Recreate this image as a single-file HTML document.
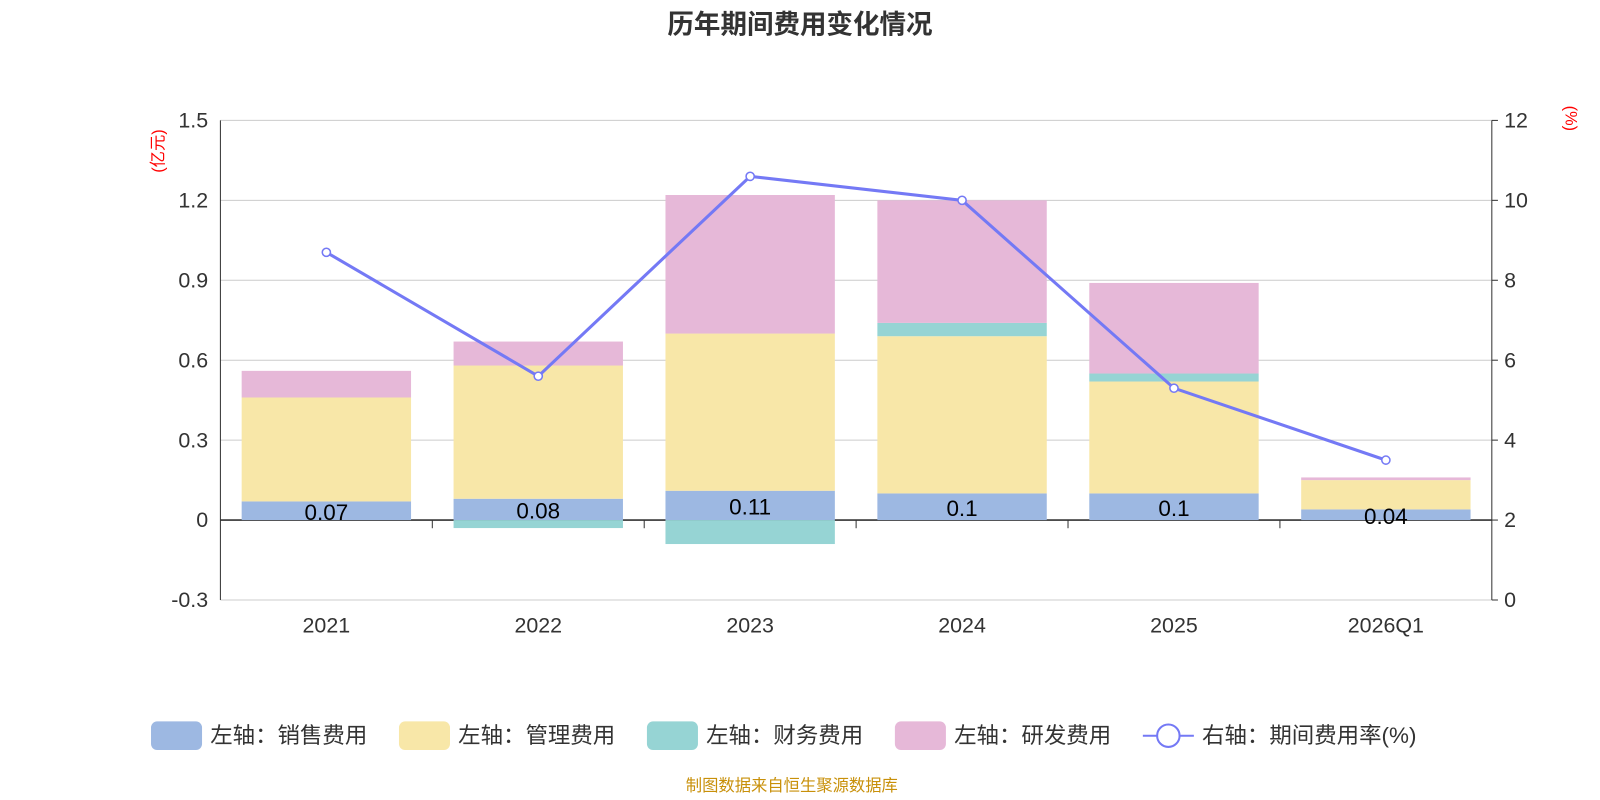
<!DOCTYPE html>
<html><head><meta charset="utf-8"><style>
html,body{margin:0;padding:0;background:#fff;}
svg{display:block;font-family:"Liberation Sans","Noto Sans CJK SC",sans-serif;}
</style></head><body>
<svg id="chart" width="1600" height="800">
<g transform="scale(1.0204)">
<text x="784" y="33" text-anchor="middle" font-size="26" font-weight="bold" fill="#333">历年期间费用变化情况</text>
<text transform="translate(160,148) rotate(-90)" text-anchor="middle" font-size="16" fill="#f00">(亿元)</text>
<text transform="translate(1534,116) rotate(90)" text-anchor="middle" font-size="16" fill="#f00">(%)</text>
<g id="grid"></g><g id="bars"></g><g id="axes"></g><g id="line"></g>
<g id="legend"></g>
<text x="776" y="775" text-anchor="middle" font-size="16" fill="#c8900a">制图数据来自恒生聚源数据库</text>
</g>
</svg>
<script>
const categories=["2021","2022","2023","2024","2025","2026Q1"];
const sales=[0.07,0.08,0.11,0.10,0.10,0.04];
const mgmt=[0.39,0.50,0.59,0.59,0.42,0.11];
const fin=[0,-0.03,-0.09,0.05,0.03,0];
const rd=[0.10,0.09,0.52,0.46,0.34,0.01];
const rate=[8.7,5.6,10.6,10.0,5.3,3.5];
const leftTicks=[-0.3,0,0.3,0.6,0.9,1.2,1.5];
const leftTickLabels=["-0.3","0","0.3","0.6","0.9","1.2","1.5"];
const rightTicks=[0,2,4,6,8,10,12];
const NS="http://www.w3.org/2000/svg";
const X0=216,X1=1462,YT=118,YB=588;
const yL=v=>YB-(v+0.3)/1.8*(YB-YT);
const yR=v=>YB-v/12*(YB-YT);
const band=(X1-X0)/categories.length;
const xC=i=>X0+band*(i+0.5);
function mk(tag,attrs,parent,txt){const e=document.createElementNS(NS,tag);for(const k in attrs)e.setAttribute(k,attrs[k]);if(txt!==undefined)e.textContent=txt;document.getElementById(parent).appendChild(e);return e;}
leftTicks.forEach((t,i)=>{
 const g=mk('line',{x1:X0,x2:X1,y1:yL(t),y2:yL(t),stroke:t===0?'#333':'#ccc','stroke-width':t===0?1.5:1},'grid');
 
 
 const l=mk('text',{x:X0-12,y:yL(t)+7,'text-anchor':'end','font-size':21,fill:'#333'},'axes',leftTickLabels[i]);
 
 
});
rightTicks.forEach(t=>{
 const l=mk('text',{x:X1+12,y:yR(t)+7,'font-size':21,fill:'#333'},'axes',String(t));
 
 
 mk('line',{x1:X1,x2:X1+6,y1:yR(t),y2:yR(t),stroke:'#333'},'axes');
});
mk('line',{x1:X0,x2:X0,y1:YT,y2:YB,stroke:'#333'},'axes');
mk('line',{x1:X1,x2:X1,y1:YT,y2:YB,stroke:'#333'},'axes');
const bw=166;
const colors={sales:'#9db8e2',mgmt:'#f8e7a8',fin:'#96d4d4',rd:'#e6b8d8'};
function rect(x,v0,v1,c,name){const a=yL(v0),b=yL(v1);const r=mk('rect',{x:x,y:Math.min(a,b),width:bw,height:Math.abs(a-b),fill:c},'bars');}
categories.forEach((c,i)=>{
 const x=xC(i)-bw/2;
 let pos=0,neg=0;
 const stack=(v,col,n)=>{if(v>=0){rect(x,pos,pos+v,col,n);pos+=v;}else{rect(x,neg,neg+v,col,n);neg+=v;}};
 stack(sales[i],colors.sales,'bar-sales');
 stack(mgmt[i],colors.mgmt,'bar-mgmt');
 stack(fin[i],colors.fin,'bar-fin');
 stack(rd[i],colors.rd,'bar-rd');
 const lb=mk('text',{x:xC(i),y:yL(sales[i]/2)+9,'text-anchor':'middle','font-size':22,fill:'#000'},'bars',String(sales[i]));
 
 
 const xl=mk('text',{x:xC(i),y:620,'text-anchor':'middle','font-size':21,fill:'#333'},'axes',c);
 
 
 if(i>0)mk('line',{x1:X0+band*i,x2:X0+band*i,y1:yL(0),y2:yL(0)+8,stroke:'#333'},'axes');
});
const pts=rate.map((v,i)=>xC(i)+','+yR(v)).join(' ');
const pl=mk('polyline',{points:pts,fill:'none',stroke:'#7479f5','stroke-width':3},'line');


rate.forEach((v,i)=>{const c=mk('circle',{cx:xC(i),cy:yR(v),r:4,fill:'#fff',stroke:'#7479f5','stroke-width':1.5},'line');});
const leg=[["左轴：销售费用",colors.sales,148],["左轴：管理费用",colors.mgmt,391],["左轴：财务费用",colors.fin,634],["左轴：研发费用",colors.rd,877]];
leg.forEach(l=>{const r=mk('rect',{x:l[2],y:707,width:50,height:28,rx:6,fill:l[1]},'legend');
const t=mk('text',{x:l[2]+58,y:728,'font-size':22,fill:'#333'},'legend',l[0]);});
mk('line',{x1:1120,x2:1170,y1:721,y2:721,stroke:'#7479f5','stroke-width':2},'legend');
const lc=mk('circle',{cx:1145,cy:721,r:11,fill:'#fff',stroke:'#7479f5','stroke-width':2},'legend');


const lt=mk('text',{x:1178,y:728,'font-size':22,fill:'#333'},'legend',"右轴：期间费用率(%)");


</script>
</body></html>
